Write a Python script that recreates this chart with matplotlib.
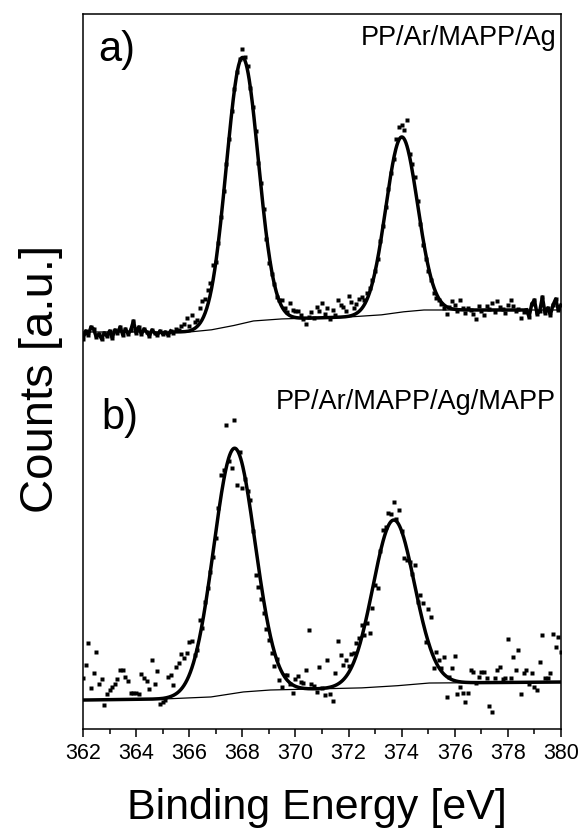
import numpy as np
import matplotlib
matplotlib.use("Agg")
import matplotlib.pyplot as plt

plt.rcParams['font.family'] = ['Liberation Sans', 'DejaVu Sans']

# energy grid of the measured spectra (0.1 eV steps)
energy = np.round(np.arange(362.0, 380.05, 0.1), 1)

# a) PP/Ar/MAPP/Ag - measured counts (a.u., offset upwards)
counts_a = [
    390, 398, 394, 402, 400, 392, 395, 390, 396, 393,
    398, 391, 399, 396, 402, 394, 400, 395, 399, 408,
    396, 402, 395, 400, 397, 393, 399, 396, 394, 398,
    395, 397, 394, 398, 396, 400, 399, 403, 405, 411,
    403, 414, 407, 409, 421, 428, 430, 439, 446, 464,
    467, 486, 512, 538, 565, 590, 618, 640, 657, 670,
    680, 672, 663, 641, 622, 598, 566, 546, 520, 490,
    466, 455, 445, 432, 429, 429, 421, 417, 426, 419,
    418, 418, 414, 410, 405, 412, 417, 411, 422, 418,
    426, 415, 421, 410, 419, 414, 429, 424, 422, 418,
    433, 427, 421, 425, 430, 432, 429, 436, 441, 449,
    458, 470, 488, 503, 522, 540, 556, 570, 590, 602,
    604, 599, 609, 575, 565, 552, 528, 505, 484, 470,
    458, 449, 436, 431, 429, 425, 421, 415, 422, 428,
    424, 418, 429, 421, 416, 421, 419, 415, 410, 423,
    418, 414, 423, 420, 426, 417, 428, 422, 420, 416,
    424, 429, 423, 418, 420, 411, 417, 419, 412, 425,
    429, 415, 418, 432, 416, 421, 414, 424, 430, 419,
    424,
]

# b) PP/Ar/MAPP/Ag/MAPP - measured counts (a.u.)
counts_b = [
    51, 64, 86, 41, 56, 77, 45, 50, 24, 35,
    39, 42, 45, 50, 59, 59, 52, 48, 36, 36,
    36, 35, 55, 51, 48, 40, 69, 45, 58, 25,
    27, 29, 52, 54, 44, 62, 66, 75, 71, 76,
    87, 88, 74, 79, 109, 101, 127, 141, 157, 172,
    191, 221, 254, 259, 304, 268, 261, 309, 244, 277,
    241, 250, 238, 229, 198, 154, 142, 130, 116, 100,
    89, 76, 63, 70, 49, 42, 54, 54, 45, 36,
    50, 53, 47, 46, 59, 99, 45, 43, 37, 62,
    41, 34, 69, 35, 28, 56, 88, 74, 64, 69,
    63, 75, 76, 86, 91, 104, 94, 106, 96, 121,
    144, 141, 178, 199, 202, 216, 215, 227, 210, 219,
    198, 171, 169, 167, 155, 164, 127, 134, 126, 87,
    120, 112, 61, 77, 69, 61, 72, 32, 52, 61,
    73, 35, 42, 36, 27, 36, 59, 57, 46, 52,
    57, 57, 51, 23, 17, 51, 59, 62, 50, 51,
    90, 51, 72, 59, 79, 35, 56, 59, 45, 56,
    42, 39, 67, 94, 51, 51, 56, 95, 82, 92,
    77,
]

# fitted Ag 3d components (centre eV, height, sigma eV)
peak_centres_a = [368.0, 374.0]
peak_heights_a = [266, 175]
peak_sigma_a = 0.60
peak_centres_b = [367.7, 373.7]
peak_heights_b = [245, 166]
peak_sigma_b = 0.78

# Shirley type background
bg_energy_a = [362.0, 366.0, 366.8, 367.6, 368.4, 369.4, 372.0, 373.2, 374.0, 374.8, 380.0]
bg_counts_a = [397, 397, 399, 403, 408, 410, 412, 414, 417, 419, 419]
bg_energy_b = [362.0, 365.0, 366.8, 368.0, 369.0, 372.4, 373.7, 375.0, 380.0]
bg_counts_b = [29, 30, 32, 37, 39, 41, 43, 46, 47]

# energy window of the fit in a)
fit_window_a = [365.3, 378.7]


def fit_curve(e, centres, heights, sigma, bg_e, bg_c):
    y = np.interp(e, bg_e, bg_c)
    for c, h in zip(centres, heights):
        y = y + h * np.exp(-(e - c) ** 2 / (2 * sigma ** 2))
    return y


fig = plt.figure(figsize=(5.86, 8.31), dpi=100)
ax = fig.add_axes([0.1416, 0.1227, 0.8157, 0.8605])

e_fine = np.linspace(362, 380, 901)
counts_a = np.array(counts_a)
counts_b = np.array(counts_b)

# --- a)
ax.plot(energy, counts_a, 's', ms=2.6, color='black', mec='none')
ax.plot(e_fine, np.interp(e_fine, bg_energy_a, bg_counts_a), color='black', lw=0.9)
e_win = e_fine[(e_fine >= fit_window_a[0]) & (e_fine <= fit_window_a[1])]
ax.plot(e_win, fit_curve(e_win, peak_centres_a, peak_heights_a, peak_sigma_a,
                         bg_energy_a, bg_counts_a), color='black', lw=2.5)
left = energy <= fit_window_a[0]
right = energy >= fit_window_a[1]
ax.plot(energy[left], counts_a[left], color='black', lw=2.5)
ax.plot(energy[right], counts_a[right], color='black', lw=2.5)

# --- b)
ax.plot(energy, counts_b, 's', ms=2.6, color='black', mec='none')
ax.plot(e_fine, np.interp(e_fine, bg_energy_b, bg_counts_b), color='black', lw=0.9)
ax.plot(e_fine, fit_curve(e_fine, peak_centres_b, peak_heights_b, peak_sigma_b,
                          bg_energy_b, bg_counts_b), color='black', lw=2.5)

ax.set_xlim(362, 380)
ax.set_ylim(0, 715)
ax.set_xticks(np.arange(362, 381, 2))
ax.set_xticks(np.arange(363, 380, 2), minor=True)
ax.set_yticks([])
ax.tick_params(axis='x', which='major', direction='out', length=6, width=1.1,
               labelsize=15.5, pad=4)
ax.tick_params(axis='x', which='minor', direction='out', length=3.5, width=1.1)
for s in ax.spines.values():
    s.set_linewidth(1.1)

ax.text(0.031, 0.977, 'a)', transform=ax.transAxes, fontsize=30, va='top', ha='left')
ax.text(0.99, 0.985, 'PP/Ar/MAPP/Ag', transform=ax.transAxes, fontsize=19.5,
        va='top', ha='right')
ax.text(0.038, 0.463, 'b)', transform=ax.transAxes, fontsize=30, va='top', ha='left')
ax.text(0.99, 0.475, 'PP/Ar/MAPP/Ag/MAPP', transform=ax.transAxes, fontsize=19.5,
        va='top', ha='right')

ax.set_xlabel('Binding Energy [eV]', fontsize=31)
ax.xaxis.set_label_coords(0.49, -0.082)
ax.xaxis.label.set_va('top')
ax.set_ylabel('Counts [a.u.]', fontsize=34)
ax.yaxis.label.set_va('center')
ax.yaxis.set_label_coords(-0.087, 0.49)

fig.savefig('out.png', dpi=100)
